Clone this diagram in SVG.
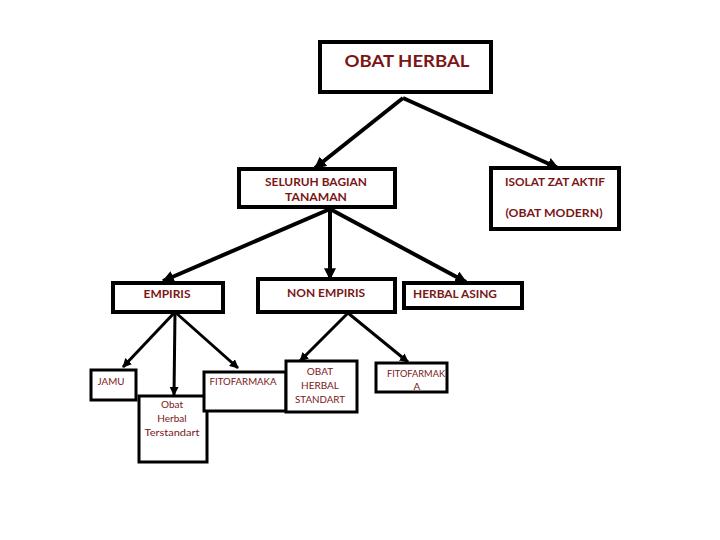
<svg xmlns="http://www.w3.org/2000/svg" width="720" height="540" viewBox="0 0 720 540">
<defs>
<marker id="ah" viewBox="0 0 10 10" refX="9" refY="5" markerWidth="3" markerHeight="3" orient="auto" markerUnits="strokeWidth">
<path d="M0,0 L10,5 L0,10 Z" fill="#000"/>
</marker>
</defs>
<style>
.box{fill:#fff;stroke:#000;stroke-width:4}
.sbox{fill:#fff;stroke:#000;stroke-width:3}
.t{font-family:Lato,"Liberation Sans",sans-serif;fill:#7a1616;font-weight:bold;text-anchor:middle}
.tl{font-family:Lato,"Liberation Sans",sans-serif;fill:#7a1616;font-weight:bold}
.s{font-family:Lato,"Liberation Sans",sans-serif;fill:#7a1616;font-weight:normal;text-anchor:middle}
.c{stroke:#000;stroke-width:4;fill:none;marker-end:url(#ah)}
.cs{stroke:#000;stroke-width:3;fill:none;marker-end:url(#ah)}
</style>
<rect width="720" height="540" fill="#fff"/>
<g id="connectors">
<line class="c" x1="403" y1="98" x2="315" y2="168"/>
<line class="c" x1="403" y1="98" x2="558" y2="168"/>
<line class="c" x1="330" y1="209" x2="163" y2="281"/>
<line class="c" x1="330" y1="209" x2="330" y2="279"/>
<line class="c" x1="330" y1="209" x2="466" y2="282"/>
<line class="cs" x1="175" y1="312" x2="123" y2="367"/>
<line class="cs" x1="175" y1="312" x2="174" y2="395"/>
<line class="cs" x1="175" y1="312" x2="238" y2="368"/>
<line class="cs" x1="348" y1="313" x2="300" y2="361"/>
<line class="cs" x1="348" y1="313" x2="408" y2="362"/>
</g>
<g id="obat-herbal">
<rect class="box" x="320" y="42" width="171" height="50"/>
<text class="t" x="407" y="67" font-size="17" textLength="125" lengthAdjust="spacingAndGlyphs">OBAT HERBAL</text>
</g>
<g id="seluruh">
<rect class="box" x="239" y="169" width="156" height="38"/>
<text class="t" x="316" y="186" font-size="12" textLength="102" lengthAdjust="spacingAndGlyphs">SELURUH BAGIAN</text>
<text class="t" x="316" y="201" font-size="12" textLength="62" lengthAdjust="spacingAndGlyphs">TANAMAN</text>
</g>
<g id="isolat">
<rect class="box" x="491" y="168" width="128" height="61"/>
<text class="t" x="555" y="186" font-size="12" textLength="100" lengthAdjust="spacingAndGlyphs">ISOLAT ZAT AKTIF</text>
<text class="t" x="554" y="217" font-size="12" textLength="97" lengthAdjust="spacingAndGlyphs">(OBAT MODERN)</text>
</g>
<g id="empiris">
<rect class="box" x="113" y="283" width="110" height="29"/>
<text class="t" x="167" y="298" font-size="12" textLength="47" lengthAdjust="spacingAndGlyphs">EMPIRIS</text>
</g>
<g id="non-empiris">
<rect class="box" x="258" y="279" width="137" height="33"/>
<text class="t" x="326" y="297" font-size="12" textLength="78" lengthAdjust="spacingAndGlyphs">NON EMPIRIS</text>
</g>
<g id="herbal-asing">
<rect class="box" x="404" y="283" width="118" height="25"/>
<text class="tl" x="413" y="298" font-size="12" textLength="84" lengthAdjust="spacingAndGlyphs">HERBAL ASING</text>
</g>
<g id="jamu">
<rect class="sbox" x="91" y="370" width="45" height="30"/>
<text class="s" x="111" y="385" font-size="10" textLength="27" lengthAdjust="spacingAndGlyphs">JAMU</text>
</g>
<g id="oht">
<rect class="sbox" x="139" y="396" width="68" height="66"/>
<text class="s" x="172" y="408" font-size="10">Obat</text>
<text class="s" x="172" y="422" font-size="10">Herbal</text>
<text class="s" x="172" y="436" font-size="10" textLength="55" lengthAdjust="spacingAndGlyphs">Terstandart</text>
</g>
<g id="fitofarmaka">
<rect class="sbox" x="204" y="372" width="82" height="39"/>
<text class="s" x="243" y="385" font-size="10" textLength="67" lengthAdjust="spacingAndGlyphs">FITOFARMAKA</text>
</g>
<g id="ohs">
<rect class="sbox" x="286" y="361" width="71" height="51"/>
<text class="s" x="320" y="375" font-size="10">OBAT</text>
<text class="s" x="320" y="389" font-size="10">HERBAL</text>
<text class="s" x="320" y="403" font-size="10" textLength="50" lengthAdjust="spacingAndGlyphs">STANDART</text>
</g>
<g id="fitofarmak-a">
<rect class="sbox" x="376" y="363" width="71" height="29"/>
<text class="s" x="416" y="377" font-size="10" textLength="58" lengthAdjust="spacingAndGlyphs">FITOFARMAK</text>
<text class="s" x="417" y="390" font-size="10">A</text>
</g>
</svg>
